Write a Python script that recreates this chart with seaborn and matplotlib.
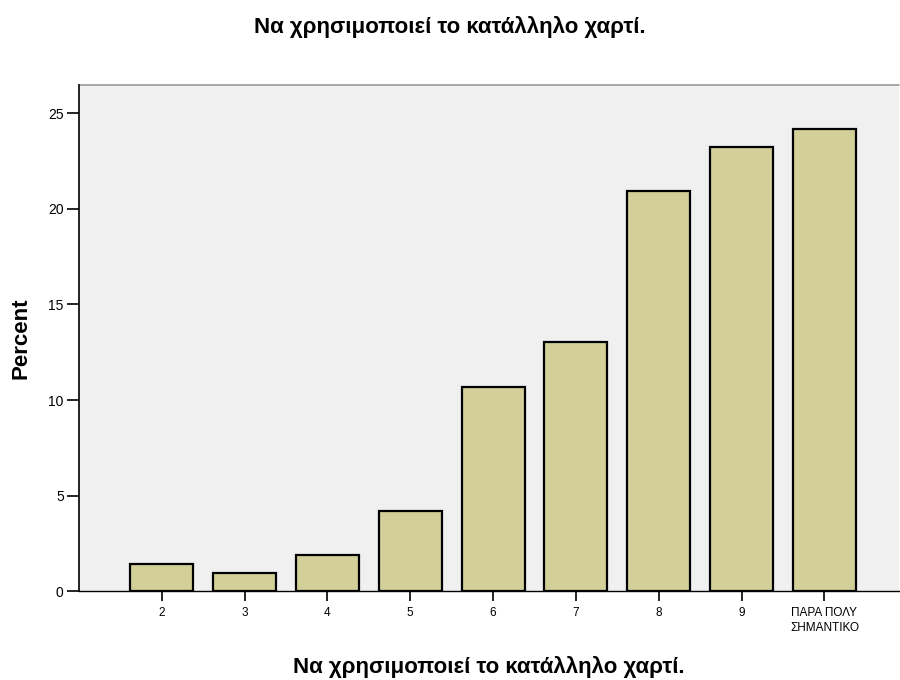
import matplotlib
matplotlib.use("Agg")
import matplotlib.pyplot as plt
import seaborn as sns
import pandas as pd

categories = ["2", "3", "4", "5", "6", "7", "8", "9", "ΠΑΡΑ ΠΟΛΥ\nΣΗΜΑΝΤΙΚΟ"]
percent = [1.41, 0.96, 1.88, 4.18, 10.68, 13.02, 20.94, 23.24, 24.17]
yticks = [0, 5, 10, 15, 20, 25]
title = "Να χρησιμοποιεί το κατάλληλο χαρτί."
ylabel = "Percent"

sns.set_style("white")
plt.rcParams['font.family'] = ['Liberation Sans', 'DejaVu Sans']
plt.rcParams['text.color'] = 'black'
plt.rcParams['axes.labelcolor'] = 'black'
plt.rcParams['xtick.color'] = 'black'
plt.rcParams['ytick.color'] = 'black'

df = pd.DataFrame({"cat": categories, "pct": percent})

fig = plt.figure(figsize=(9, 6.8), dpi=100)
ax = fig.add_axes([0.0878, 0.1304, 0.911, 0.7446])
ax.set_facecolor("#f0f0f0")

sns.barplot(data=df, x="cat", y="pct", order=categories, color="#d3cf98",
            saturation=1, width=0.76, edgecolor="black", linewidth=1.6, ax=ax)

ax.set_xlim(-1.0, 8.9)
ax.set_ylim(0, 26.47)
ax.set_yticks(yticks)
ax.set_yticklabels([str(t) for t in yticks], fontsize=10)
ax.tick_params(axis="y", length=9, width=1.2, color="black", pad=2, left=True)
ax.tick_params(axis="x", length=7, width=1.2, color="black", pad=4, labelsize=8.5, bottom=True)
for lbl in ax.get_xticklabels():
    lbl.set_linespacing(1.35)

for s in ["top", "right"]:
    ax.spines[s].set_visible(False)
ax.spines["left"].set_color("black")
ax.spines["bottom"].set_color("black")
ax.spines["left"].set_linewidth(1.2)
ax.spines["bottom"].set_linewidth(1.0)
ax.axhline(26.47, color="#9a9a9a", linewidth=1.2, clip_on=False)

ax.set_xlabel(title, fontsize=16, fontweight="bold", labelpad=16)
ax.set_ylabel(ylabel, fontsize=16, fontweight="bold", labelpad=12)
fig.text(0.5, 0.96, title, ha="center", va="center", fontsize=16, fontweight="bold")

fig.savefig("out.png", dpi=100)
